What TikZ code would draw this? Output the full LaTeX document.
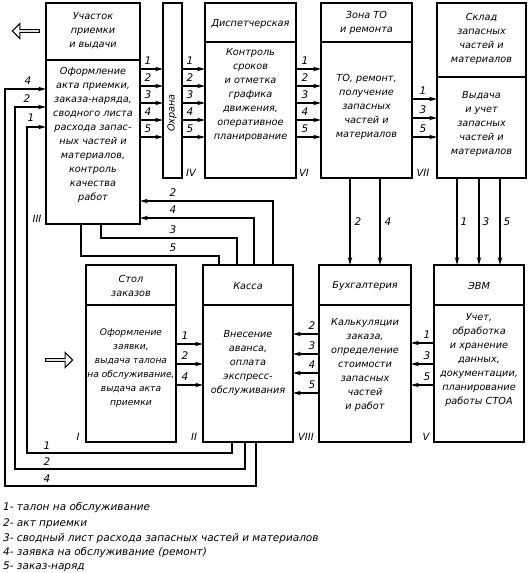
\documentclass[tikz,border=0pt]{standalone}
\usepackage{fontspec}
\setmainfont{DejaVu Sans}
\usetikzlibrary{arrows.meta,shapes.arrows}
\tikzset{
  box/.style={draw, line width=1.3pt, inner sep=0pt, outer sep=0pt},
  txt/.style={align=center, inner sep=0pt, font=\fontsize{9.7}{14}\selectfont\itshape},
  num/.style={inner sep=0pt, font=\fontsize{10.5}{12}\selectfont\itshape},
  rom/.style={inner sep=0pt, font=\fontsize{10}{11}\selectfont\itshape},
  ln/.style={line width=1.25pt},
  arr/.style={line width=1.25pt, -{Stealth[length=8pt,width=4.5pt]}},
  hollow/.style={single arrow, draw, line width=1.1pt, inner sep=0pt, minimum height=27pt, minimum width=15pt, single arrow head extend=2.5pt},
  leg/.style={anchor=west, inner sep=0pt, font=\fontsize{10.5}{12}\selectfont\itshape}
}
\begin{document}
\begin{tikzpicture}[x=1pt,y=-1pt]
\useasboundingbox (0,0) rectangle (528,573);
% boxes
\node[box, minimum width=94pt, minimum height=221pt] (III) at (93,113.5) {};
\node[box, minimum width=19pt, minimum height=175pt] (ohr) at (172.5,90.5) {};
\node[box, minimum width=91pt, minimum height=175pt] (disp) at (250.5,90.5) {};
\node[box, minimum width=91pt, minimum height=175pt] (zona) at (366.5,90.5) {};
\node[box, minimum width=89pt, minimum height=175pt] (sklad) at (481.5,90.5) {};
\node[box, minimum width=90pt, minimum height=177pt] (stol) at (131,353.5) {};
\node[box, minimum width=90pt, minimum height=177pt] (kassa) at (248,353.5) {};
\node[box, minimum width=92pt, minimum height=177pt] (bukh) at (365,353.5) {};
\node[box, minimum width=90pt, minimum height=177pt] (evm) at (479,353.5) {};
% header dividers
\draw[line width=1.3pt] (III.west |- 0,60) -- (III.east |- 0,60);
\draw[line width=1.3pt] (disp.west |- 0,42) -- (disp.east |- 0,42);
\draw[line width=1.3pt] (zona.west |- 0,42) -- (zona.east |- 0,42);
\draw[line width=1.3pt] (sklad.west |- 0,77) -- (sklad.east |- 0,77);
\draw[line width=1.3pt] (stol.west |- 0,305) -- (stol.east |- 0,305);
\draw[line width=1.3pt] (kassa.west |- 0,305) -- (kassa.east |- 0,305);
\draw[line width=1.3pt] (bukh.west |- 0,305) -- (bukh.east |- 0,305);
\draw[line width=1.3pt] (evm.west |- 0,305) -- (evm.east |- 0,305);
% texts
\node[txt] (IIIh) at (93,31) {Участок\\приемки\\и выдачи};
\node[txt] (IIIb) at (93,135) {Оформление\\акта приемки,\\заказа-наряда,\\сводного листа\\расхода запас-\\ных частей и\\материалов,\\контроль\\качества\\работ};
\node[txt, rotate=90] (ohrt) at (172,113) {Охрана};
\node[txt] (disph) at (250.5,24) {Диспетчерская};
\node[txt] (dispb) at (250.5,95) {Контроль\\сроков\\и отметка\\графика\\движения,\\оперативное\\планирование};
\node[txt] (zonah) at (366.5,23) {Зона ТО\\и ремонта};
\node[txt] (zonab) at (366.5,107) {ТО, ремонт,\\получение\\запасных\\частей и\\материалов};
\node[txt] (skladh) at (481.5,39) {Склад\\запасных\\частей и\\материалов};
\node[txt] (skladb) at (481.5,124) {Выдача\\и учет\\запасных\\частей и\\материалов};
\node[txt] (stolh) at (131,286) {Стол\\заказов};
\node[txt, font=\fontsize{9.1}{14}\selectfont\itshape] (stolb) at (131,368) {Оформление\\заявки,\\выдача талона\\на обслуживание,\\выдача акта\\приемки};
\node[txt] (kassah) at (248,286) {Касса};
\node[txt] (kassab) at (248,363) {Внесение\\аванса,\\оплата\\экспресс-\\обслуживания};
\node[txt] (bukhh) at (365,286) {Бухгалтерия};
\node[txt] (bukhb) at (365,365) {Калькуляции\\заказа,\\определение\\стоимости\\запасных\\частей\\и работ};
\node[txt] (evmh) at (479,286) {ЭВМ};
\node[txt] (evmb) at (479,360) {Учет,\\обработка\\и хранение\\данных,\\документации,\\планирование\\работы СТОА};
% roman numerals
\node[rom] (rIII) at (37,219) {III};
\node[rom] (rIV) at (191,173) {IV};
\node[rom] (rVI) at (304,173) {VI};
\node[rom] (rVII) at (423,173) {VII};
\node[rom] (rI) at (78,437) {I};
\node[rom] (rII) at (194,437) {II};
\node[rom] (rVIII) at (306,437) {VIII};
\node[rom] (rV) at (426,437) {V};
% hollow arrows
\node[hollow, shape border rotate=180] (inL) at (26.5,31) {};
\node[hollow] (inR) at (58.5,360) {};
% top row arrows
\foreach \y/\n in {69/1,86/2,103/3,120/4,137/5}{
  \draw[arr] (III.east |- 0,\y) -- (ohr.west |- 0,\y);
  \node[num] at (148,\y-8) {\n};
  \draw[arr] (ohr.east |- 0,\y) -- (disp.west |- 0,\y);
  \node[num] at (190,\y-8) {\n};
  \draw[arr] (disp.east |- 0,\y) -- (zona.west |- 0,\y);
  \node[num] at (305,\y-8) {\n};
}
\foreach \y/\n in {99/1,118/3,137/5}{
  \draw[arr] (zona.east |- 0,\y) -- (sklad.west |- 0,\y);
  \node[num] at (423,\y-8) {\n};
}
% verticals
\foreach \x/\n in {350/2,380/4}{
  \draw[arr] (zona.south -| \x,0) -- (bukh.north -| \x,0);
  \node[num] at (\x+8,222) {\n};
}
\foreach \x/\n in {457/1,479/3,500/5}{
  \draw[arr] (sklad.south -| \x,0) -- (evm.north -| \x,0);
  \node[num] at (\x+7,222) {\n};
}
% bottom row arrows
\foreach \y/\n in {334/2,354/3,373/4,393/5}{
  \draw[arr] (bukh.west |- 0,\y) -- (kassa.east |- 0,\y);
  \node[num] at (312,\y-8) {\n};
}
\foreach \y/\n in {343/1,364/3,385/5}{
  \draw[arr] (evm.west |- 0,\y) -- (bukh.east |- 0,\y);
  \node[num] at (427,\y-8) {\n};
}
\foreach \y/\n in {344/1,364/2,385/4}{
  \draw[arr] (stol.east |- 0,\y) -- (kassa.west |- 0,\y);
  \node[num] at (185,\y-8) {\n};
}
% Kassa <-> III
\draw[arr] (kassa.north -| 273,0) -- (273,201) -- (III.east |- 0,201);
\node[num] at (173,193) {2};
\draw[arr] (kassa.north -| 254,0) -- (254,218) -- (III.east |- 0,218);
\node[num] at (173,210) {4};
\draw[ln] (III.south -| 101,0) -- (101,238) -- (237,238) -- (kassa.north -| 237,0);
\node[num] at (173,230) {3};
\draw[ln] (III.south -| 81,0) -- (81,256) -- (219,256) -- (kassa.north -| 219,0);
\node[num] at (173,248) {5};
% bottom loops
\draw[arr] (kassa.south -| 232,0) -- (232,453) -- (27,453) -- (27,127) -- (III.west |- 0,127);
\node[num] at (47,446) {1};
\node[num] at (31,118) {1};
\draw[arr] (kassa.south -| 245,0) -- (245,469) -- (15,469) -- (15,107) -- (III.west |- 0,107);
\node[num] at (47,462) {2};
\node[num] at (27,99) {2};
\draw[arr] (kassa.south -| 256,0) -- (256,486) -- (5,486) -- (5,89) -- (III.west |- 0,89);
\node[num] at (47,479) {4};
\node[num] at (28,81) {4};
% legend
\node[leg] (l1) at (3,508) {1- талон на обслуживание};
\node[leg] (l2) at (3,524) {2- акт приемки};
\node[leg] (l3) at (3,539) {3- сводный лист расхода запасных частей и материалов};
\node[leg] (l4) at (3,553) {4- заявка на обслуживание (ремонт)};
\node[leg] (l5) at (3,567) {5- заказ-наряд};
\end{tikzpicture}
\end{document}
